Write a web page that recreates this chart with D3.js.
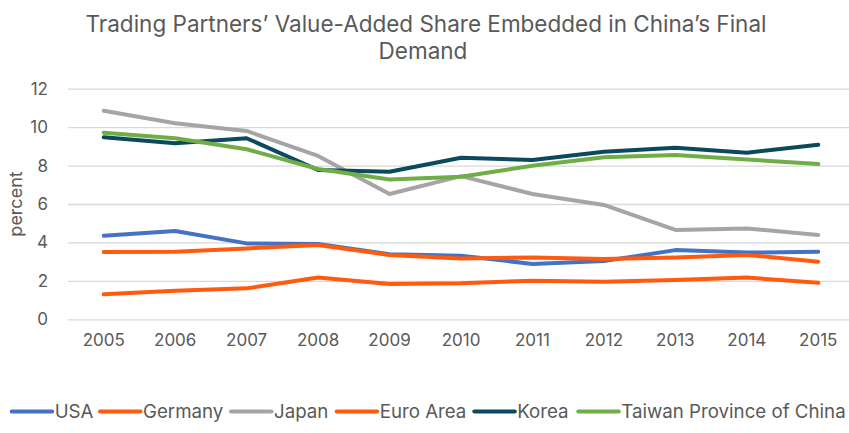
<!DOCTYPE html>
<html>
<head>
<meta charset="utf-8">
<script src="https://cdn.jsdelivr.net/npm/d3@7"></script>
<style>
    body { margin: 0; background: #fff; }
    text { font-family: "Inter", "Roboto", "Liberation Sans", sans-serif; fill: #595959; }
</style>
</head>
<body>
<div id="chart-area"></div>
<script>
const years = ["2005", "2006", "2007", "2008", "2009", "2010", "2011", "2012", "2013", "2014", "2015"]
const yTicks = [0, 2, 4, 6, 8, 10, 12]
const seriesNames = ["USA", "Germany", "Japan", "Euro Area", "Korea", "Taiwan Province of China"]

const usa = [4.35, 4.59, 3.95, 3.92, 3.38, 3.31, 2.88, 3.03, 3.60, 3.47, 3.52]
const germany = [1.30, 1.49, 1.61, 2.17, 1.84, 1.87, 2.01, 1.96, 2.04, 2.17, 1.90]
const japan = [10.85, 10.20, 9.80, 8.50, 6.52, 7.45, 6.52, 5.95, 4.65, 4.73, 4.39]
const euroArea = [3.50, 3.52, 3.69, 3.87, 3.35, 3.17, 3.22, 3.14, 3.22, 3.35, 3.00]
const korea = [9.47, 9.16, 9.42, 7.77, 7.68, 8.41, 8.29, 8.72, 8.93, 8.67, 9.08]
const taiwan = [9.71, 9.42, 8.85, 7.82, 7.28, 7.42, 7.99, 8.43, 8.55, 8.32, 8.08]

const colors = ["#4472C4", "#FF5A0E", "#A5A5A5", "#FF5A0E", "#0B4A5C", "#70AD47"]

class LineChart {
    constructor(_parentElement, _width = 849, _height = 433) {
        this.parentElement = _parentElement
        this.width = _width
        this.height = _height
        this.initVis()
    }
    initVis() {
        const vis = this
        vis.MARGIN = { LEFT: 68, RIGHT: -5, TOP: 88.7, BOTTOM: 113.7 }
        vis.WIDTH = vis.width - vis.MARGIN.LEFT - vis.MARGIN.RIGHT
        vis.HEIGHT = vis.height - vis.MARGIN.TOP - vis.MARGIN.BOTTOM

        vis.svg = d3.select(vis.parentElement).append("svg")
            .attr("width", vis.width)
            .attr("height", vis.height)

        // title
        vis.title = vis.svg.append("text")
            .attr("text-anchor", "middle")
            .attr("font-size", "22.5px")
        vis.title.append("tspan").attr("x", 426).attr("y", 31.5)
            .text("Trading Partners’ Value-Added Share Embedded in China’s Final")
        vis.title.append("tspan").attr("x", 423).attr("y", 58.5)
            .text("Demand")

        vis.g = vis.svg.append("g")
            .attr("transform", `translate(${vis.MARGIN.LEFT}, ${vis.MARGIN.TOP})`)

        vis.x = d3.scaleBand().domain(years).range([0, vis.WIDTH])
        vis.y = d3.scaleLinear().domain([0, 12]).range([vis.HEIGHT, 0])

        // gridlines
        vis.g.append("g")
            .attr("class", "grid")
            .call(d3.axisLeft(vis.y).tickValues(yTicks).tickSize(-vis.WIDTH).tickFormat(""))
            .call(g => g.select(".domain").remove())
            .call(g => g.selectAll("line").attr("stroke", "#d9d9d9").attr("stroke-width", 1.3))

        // y axis labels
        vis.g.append("g")
            .attr("class", "y axis")
            .attr("transform", "translate(-17, 0)")
            .call(d3.axisLeft(vis.y).tickValues(yTicks).tickSize(0))
            .call(g => g.select(".domain").remove())
            .call(g => g.selectAll("text").attr("font-size", "17px").attr("font-family", null))

        // x axis labels
        vis.g.append("g")
            .attr("class", "x axis")
            .attr("transform", `translate(0, ${vis.HEIGHT + 12})`)
            .call(d3.axisBottom(vis.x).tickSize(0))
            .call(g => g.select(".domain").remove())
            .call(g => g.selectAll("text").attr("font-size", "17px").attr("font-family", null))

        // y label
        vis.svg.append("text")
            .attr("transform", "rotate(-90)")
            .attr("x", -204)
            .attr("y", 22)
            .attr("text-anchor", "middle")
            .attr("font-size", "18px")
            .text("percent")

        vis.line = d3.line()
            .x((d, i) => vis.x(years[i]) + vis.x.bandwidth() / 2)
            .y(d => vis.y(d))

        const data = [usa, germany, japan, euroArea, korea, taiwan]
        vis.g.selectAll("path.series")
            .data(data)
            .enter().append("path")
            .attr("class", "series")
            .attr("d", vis.line)
            .attr("fill", "none")
            .attr("stroke", (d, i) => colors[i])
            .attr("stroke-width", 4)
            .attr("stroke-linejoin", "round")
            .attr("stroke-linecap", "round")

        // legend
        const legendX = [11.7, 100, 231, 336.7, 474.3, 578.3]
        const legend = vis.svg.append("g").attr("class", "legend")
        seriesNames.forEach((name, i) => {
            legend.append("line")
                .attr("x1", legendX[i]).attr("x2", legendX[i] + 40.5)
                .attr("y1", 411.5).attr("y2", 411.5)
                .attr("stroke", colors[i])
                .attr("stroke-width", 4)
                .attr("stroke-linecap", "round")
            legend.append("text")
                .attr("x", legendX[i] + 43)
                .attr("y", 411.5)
                .attr("dy", "0.35em")
                .attr("font-size", "18.7px")
                .text(name)
        })
    }
}

new LineChart("#chart-area")
</script>
</body>
</html>
